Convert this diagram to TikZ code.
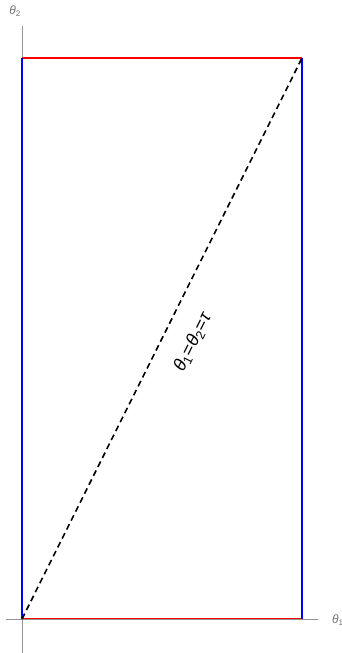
\documentclass[tikz,border=0pt]{standalone}
\usepackage{fontspec}
\setmainfont{Liberation Sans}
\begin{document}
\begin{tikzpicture}[x=1pt,y=-1pt,
  axis/.style={draw=gray!85, line width=0.8pt},
  axlabel/.style={text=gray!90!black, font=\fontsize{12}{14}\selectfont, inner sep=0pt},
  edgeblue/.style={draw=blue, line width=2.6pt},
  edgered/.style={draw=red, line width=2.6pt},
  diag/.style={draw=black, line width=1.6pt, dash pattern=on 6pt off 4pt}]
\clip (0,0) rectangle (341,653);
\coordinate (O) at (22,619);
\coordinate (BR) at (302,619);
\coordinate (TR) at (302,58);
\coordinate (TL) at (22,58);
\coordinate (xs) at (6,619);
\coordinate (xe) at (318,619);
\coordinate (ys) at (22,653);
\coordinate (ye) at (22,26);
% y axis below edges
\draw[axis] (ys) -- (ye);
% rectangle edges
\draw[edgered] (O) -- (BR);
\draw[edgered] (TL) -- (TR);
\draw[edgeblue] (O) -- (TL);
\draw[edgeblue] (BR) -- (TR);
% x axis over bottom edge
\draw[axis] (xs) -- (xe);
% diagonal
\draw[diag] (O) -- (TR);
\node[rotate=63.47, font=\fontsize{18}{20}\selectfont, inner sep=0pt] (lab) at (193,342) {\textit{θ}\textsubscript{1}=\textit{θ}\textsubscript{2}=\textit{τ}};
% axis labels
\node[axlabel, anchor=west] (l1) at (332,620) {\textit{θ}\textsubscript{1}};
\node[axlabel] (l2) at (15,11) {\textit{θ}\textsubscript{2}};
\end{tikzpicture}
\end{document}
